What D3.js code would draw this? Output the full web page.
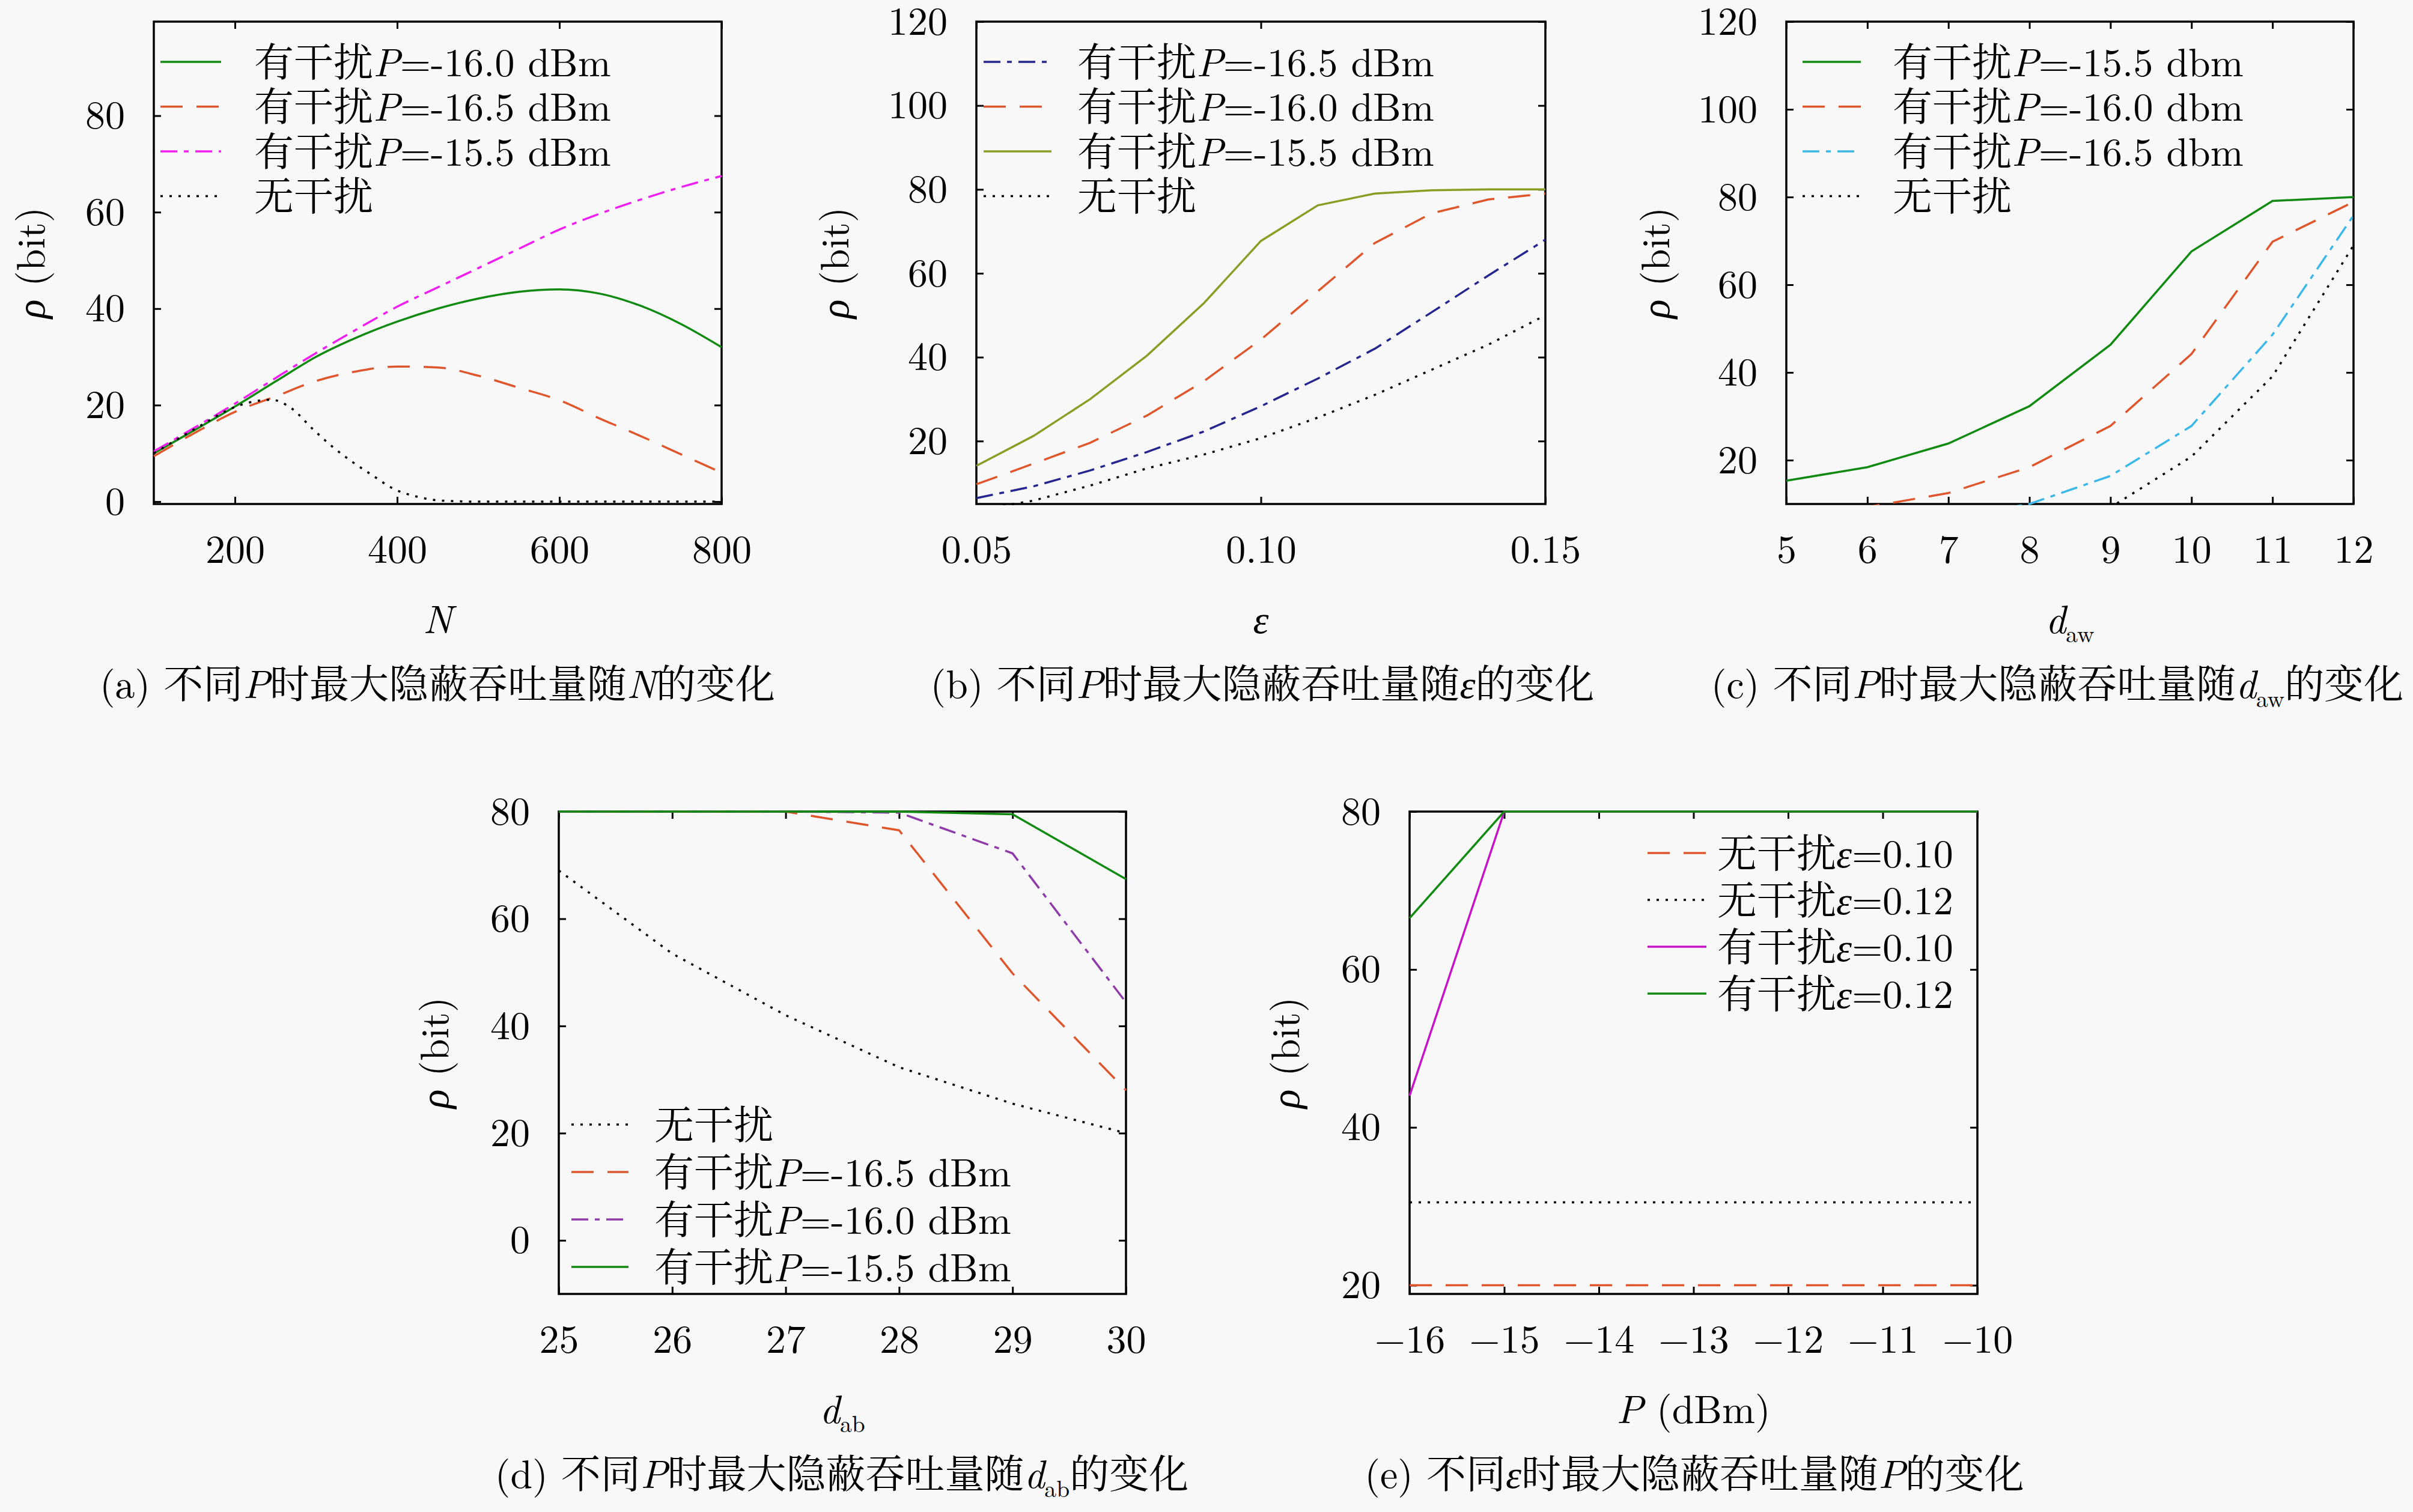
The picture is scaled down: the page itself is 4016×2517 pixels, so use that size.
<!DOCTYPE html>
<html>
<head>
<meta charset="utf-8">
<script src="https://cdn.jsdelivr.net/npm/d3@7"></script>
<style>
  body { margin: 0; background: #f8f8f8; }
</style>
</head>
<body>
<div id="chart"></div>
<script>
// (a) rho vs N
var aN = [100, 150, 200, 250, 300, 350, 400, 450, 500, 550, 600, 650, 700, 750, 800];
var aP160 = [10, 14.8, 19.7, 24.9, 30, 34, 37.3, 40, 42.1, 43.5, 44, 43.1, 40.6, 36.8, 32];
var aP165 = [9.4, 14.2, 18.6, 21.8, 25, 27, 28, 27.8, 26.1, 23.6, 21, 17.2, 13.6, 9.8, 6];
var aP155 = [10.4, 15.3, 20.3, 25.6, 30.8, 35.7, 40.4, 44.4, 48.4, 52.4, 56.4, 59.7, 62.6, 65.2, 67.5];
var aNoneN = [100, 150, 200, 225, 245, 270, 295, 320, 345, 370, 395, 425, 455, 500, 600, 700, 800];
var aNone = [10, 15, 19.6, 20.8, 21.1, 19.3, 15.2, 11.4, 8.2, 5.4, 2.7, 1.0, 0.2, 0, 0, 0, 0];

// (b) rho vs epsilon
var bE = [0.05, 0.06, 0.07, 0.08, 0.09, 0.10, 0.11, 0.12, 0.13, 0.14, 0.15];
var bP165 = [6.4, 9.2, 13, 17.4, 22.3, 28.3, 34.9, 42, 50.7, 59.5, 68];
var bP160 = [9.7, 14.6, 19.6, 26.1, 34.3, 44.2, 55.7, 67.2, 74.3, 77.6, 79];
var bP155 = [14.1, 21.2, 30, 40.4, 52.9, 67.7, 76.2, 79, 79.8, 80, 80];
var bNone = [3.5, 5.8, 9.4, 13.5, 16.8, 20.7, 25.6, 31, 37, 43, 50];

// (c) rho vs d_aw
var cD = [5, 6, 7, 8, 9, 10, 11, 12];
var cP155 = [15.3, 18.4, 23.8, 32.3, 46.3, 67.6, 79.1, 80];
var cP160 = [6.5, 9.3, 12.5, 18.4, 27.8, 44.2, 69.8, 78.9];
var cP165 = [3, 5, 7, 10, 16.4, 27.8, 48.6, 75.8];
var cNone = [2, 3.5, 5.5, 7.5, 9.2, 20.8, 39.1, 69];

// (d) rho vs d_ab
var dD = [25, 26, 27, 28, 29, 30];
var dNone = [69, 53.5, 42, 32.3, 25.5, 20];
var dP165 = [80, 80, 80, 76.5, 49.8, 28];
var dP160 = [80, 80, 80, 79.8, 72.2, 44.4];
var dP155 = [80, 80, 80, 80, 79.5, 67.4];

// (e) rho vs P
var eP = [-16, -15, -14, -13, -12, -11, -10];
var eNone10 = [20, 20, 20, 20, 20, 20, 20];
var eNone12 = [30.5, 30.5, 30.5, 30.5, 30.5, 30.5, 30.5];
var eJam10 = [44, 80, 80, 80, 80, 80, 80];
var eJam12 = [66.5, 80, 80, 80, 80, 80, 80];

// tick values
var aXTicks = [200, 400, 600, 800], aYTicks = [0, 20, 40, 60, 80];
var bXTicks = [0.05, 0.10, 0.15], bYTicks = [20, 40, 60, 80, 100, 120];
var cXTicks = [5, 6, 7, 8, 9, 10, 11, 12], cYTicks = [20, 40, 60, 80, 100, 120];
var dXTicks = [25, 26, 27, 28, 29, 30], dYTicks = [0, 20, 40, 60, 80];
var eXTicks = [-16, -15, -14, -13, -12, -11, -10], eYTicks = [20, 40, 60, 80];

var FS = 66;
var LW = 3.5;
var FONT = "'Latin Modern Roman', 'Noto Serif CJK SC', 'Liberation Serif', serif";
var GREEK = "'Liberation Serif', 'Noto Serif CJK SC', serif";
var DASH = { solid: null, dash: "37,23", dashdot: "28,11,8,11", dot: "4,11" };

var svg = d3.select("#chart").append("svg")
  .attr("width", 4016).attr("height", 2517)
  .style("background", "#f8f8f8");

// write text made of parts: [string, style]
function rich(sel, parts) {
  var lift = 0;
  sel.style("font-family", FONT);
  parts.forEach(function (p) {
    var t = sel.append("tspan").text(p[0]);
    if (lift) { t.attr("dy", -lift); lift = 0; }
    if (p[1] === "i") t.attr("font-style", "italic");
    if (p[1] === "g") t.attr("font-style", "italic").style("font-family", GREEK);
    if (p[1] === "sub") {
      lift = FS * 0.22;
      t.attr("font-size", FS * 0.6).attr("dy", lift);
    }
  });
}

function pLabel(v) { return [["有干扰"], ["P", "i"], ["=-" + v]]; }

var panels = [
  {
    left: 256, top: 36, w: 945, h: 803, xd: [100, 800], yd: [-0.5, 99.5],
    xt: aXTicks, yt: aYTicks, xf: d3.format("d"), curve: d3.curveMonotoneX,
    ylab: 205, capX: 728,
    xlab: [["N", "i"]],
    cap: [["(a) 不同"], ["P", "i"], ["时最大隐蔽吞吐量随"], ["N", "i"], ["的变化"]],
    leg: { x: 11, y: 67, step: 74.5, len: 101, tx: 167 },
    series: [
      { x: aN, y: aP160, c: "#118a11", s: "solid", lab: pLabel("16.0 dBm") },
      { x: aN, y: aP165, c: "#e0562c", s: "dash", lab: pLabel("16.5 dBm") },
      { x: aN, y: aP155, c: "#f01ef0", s: "dashdot", lab: pLabel("15.5 dBm") },
      { x: aNoneN, y: aNone, c: "#000", s: "dot", lab: [["无干扰"]] }
    ]
  },
  {
    left: 1625, top: 36, w: 947, h: 803, xd: [0.05, 0.15], yd: [5, 120],
    xt: bXTicks, yt: bYTicks, xf: d3.format(".2f"), curve: d3.curveLinear,
    ylab: 236, capX: 2101,
    xlab: [["ε", "g"]],
    cap: [["(b) 不同"], ["P", "i"], ["时最大隐蔽吞吐量随"], ["ε", "g"], ["的变化"]],
    leg: { x: 12, y: 67, step: 74.5, len: 113, tx: 168 },
    series: [
      { x: bE, y: bP165, c: "#25258f", s: "dashdot", lab: pLabel("16.5 dBm") },
      { x: bE, y: bP160, c: "#e0562c", s: "dash", lab: pLabel("16.0 dBm") },
      { x: bE, y: bP155, c: "#8a9e26", s: "solid", lab: pLabel("15.5 dBm") },
      { x: bE, y: bNone, c: "#000", s: "dot", lab: [["无干扰"]] }
    ]
  },
  {
    left: 2973, top: 36, w: 944, h: 803, xd: [5, 12], yd: [10, 120],
    xt: cXTicks, yt: cYTicks, xf: d3.format("d"), curve: d3.curveLinear,
    ylab: 218, capX: 3424,
    xlab: [["d", "i"], ["aw", "sub"]],
    cap: [["(c) 不同"], ["P", "i"], ["时最大隐蔽吞吐量随"], ["d", "i"], ["aw", "sub"], ["的变化"]],
    leg: { x: 27, y: 67, step: 74.5, len: 97, tx: 177 },
    series: [
      { x: cD, y: cP155, c: "#118a11", s: "solid", lab: pLabel("15.5 dbm") },
      { x: cD, y: cP160, c: "#e0562c", s: "dash", lab: pLabel("16.0 dbm") },
      { x: cD, y: cP165, c: "#3cb8e8", s: "dashdot", lab: pLabel("16.5 dbm") },
      { x: cD, y: cNone, c: "#000", s: "dot", lab: [["无干扰"]] }
    ]
  },
  {
    left: 930, top: 1351, w: 944, h: 803, xd: [25, 30], yd: [-10, 80],
    xt: dXTicks, yt: dYTicks, xf: d3.format("d"), curve: d3.curveLinear,
    ylab: 207, capX: 1401,
    xlab: [["d", "i"], ["ab", "sub"]],
    cap: [["(d) 不同"], ["P", "i"], ["时最大隐蔽吞吐量随"], ["d", "i"], ["ab", "sub"], ["的变化"]],
    leg: { x: 21, y: 521, step: 79, len: 95, tx: 159 },
    series: [
      { x: dD, y: dNone, c: "#000", s: "dot", lab: [["无干扰"]] },
      { x: dD, y: dP165, c: "#e0562c", s: "dash", lab: pLabel("16.5 dBm") },
      { x: dD, y: dP160, c: "#8e3aa8", s: "dashdot", lab: pLabel("16.0 dBm") },
      { x: dD, y: dP155, c: "#118a11", s: "solid", lab: pLabel("15.5 dBm") }
    ]
  },
  {
    left: 2346, top: 1351, w: 945, h: 803, xd: [-16, -10], yd: [18.9, 80],
    xt: eXTicks, yt: eYTicks, xf: function (d) { return "−" + Math.abs(d); }, curve: d3.curveLinear,
    ylab: 207, capX: 2820,
    xlab: [["P", "i"], [" (dBm)"]],
    cap: [["(e) 不同"], ["ε", "g"], ["时最大隐蔽吞吐量随"], ["P", "i"], ["的变化"]],
    leg: { x: 396, y: 69, step: 78, len: 98, tx: 512 },
    series: [
      { x: eP, y: eNone10, c: "#e0562c", s: "dash", lab: [["无干扰"], ["ε", "g"], ["=0.10"]] },
      { x: eP, y: eNone12, c: "#000", s: "dot", lab: [["无干扰"], ["ε", "g"], ["=0.12"]] },
      { x: eP, y: eJam10, c: "#c414c4", s: "solid", lab: [["有干扰"], ["ε", "g"], ["=0.10"]] },
      { x: eP, y: eJam12, c: "#118a11", s: "solid", lab: [["有干扰"], ["ε", "g"], ["=0.12"]] }
    ]
  }
];

panels.forEach(function (p, pi) {
  var x = d3.scaleLinear().domain(p.xd).range([0, p.w]);
  var y = d3.scaleLinear().domain(p.yd).range([p.h, 0]);

  var g = svg.append("g").attr("transform", "translate(" + p.left + "," + p.top + ")");

  // axes with inward ticks, mirrored on top/right
  function styleAxis(ax) {
    ax.attr("font-size", FS);
    ax.selectAll("text").style("font-family", FONT);
    ax.select(".domain").remove();
    ax.selectAll(".tick line").attr("stroke", "#000").attr("stroke-width", 3);
  }
  function mirrorAxis(ax) {
    styleAxis(ax);
    ax.selectAll(".tick text").remove(); // tick marks only
  }
  g.append("g").attr("transform", "translate(0," + p.h + ")")
    .call(d3.axisBottom(x).tickValues(p.xt).tickFormat(p.xf).tickSize(-12).tickPadding(51))
    .call(styleAxis);
  g.append("g")
    .call(d3.axisLeft(y).tickValues(p.yt).tickFormat(d3.format("d")).tickSize(-12).tickPadding(48))
    .call(styleAxis);
  g.append("g")
    .call(d3.axisTop(x).tickValues(p.xt).tickSize(-12))
    .call(mirrorAxis);
  g.append("g").attr("transform", "translate(" + p.w + ",0)")
    .call(d3.axisRight(y).tickValues(p.yt).tickSize(-12))
    .call(mirrorAxis);

  g.append("rect").attr("width", p.w).attr("height", p.h)
    .attr("fill", "none").attr("stroke", "#000").attr("stroke-width", 3.5);

  var clipId = "clip" + pi;
  g.append("clipPath").attr("id", clipId).append("rect")
    .attr("x", -2).attr("y", -2).attr("width", p.w + 4).attr("height", p.h + 4);

  var lines = g.append("g").attr("clip-path", "url(#" + clipId + ")");
  p.series.forEach(function (s) {
    var pts = s.x.map(function (v, i) { return [v, s.y[i]]; });
    lines.append("path")
      .datum(pts)
      .attr("fill", "none")
      .attr("stroke", s.c)
      .attr("stroke-width", LW)
      .attr("stroke-dasharray", DASH[s.s])
      .attr("d", d3.line().x(function (d) { return x(d[0]); })
        .y(function (d) { return y(d[1]); }).curve(p.curve));
  });

  // legend
  p.series.forEach(function (s, i) {
    var ly = p.leg.y + i * p.leg.step;
    g.append("line")
      .attr("x1", p.leg.x).attr("x2", p.leg.x + p.leg.len)
      .attr("y1", ly).attr("y2", ly)
      .attr("stroke", s.c).attr("stroke-width", LW)
      .attr("stroke-dasharray", DASH[s.s]);
    var t = g.append("text")
      .attr("x", p.leg.tx).attr("y", ly).attr("dy", "0.36em")
      .attr("font-size", FS);
    rich(t, s.lab);
  });

  // y label
  var yl = g.append("text")
    .attr("transform", "translate(" + (-p.ylab) + "," + (p.h / 2) + ") rotate(-90)")
    .attr("text-anchor", "middle").attr("dy", "0.35em")
    .attr("font-size", FS);
  rich(yl, [["ρ", "g"], [" (bit)"]]);

  // x label
  var xl = g.append("text")
    .attr("x", p.w / 2).attr("y", p.h + 215)
    .attr("text-anchor", "middle").attr("font-size", FS);
  rich(xl, p.xlab);

  // caption
  var cp = g.append("text")
    .attr("x", p.capX - p.left).attr("y", p.h + 323)
    .attr("text-anchor", "middle").attr("font-size", FS);
  rich(cp, p.cap);
});
</script>
</body>
</html>
